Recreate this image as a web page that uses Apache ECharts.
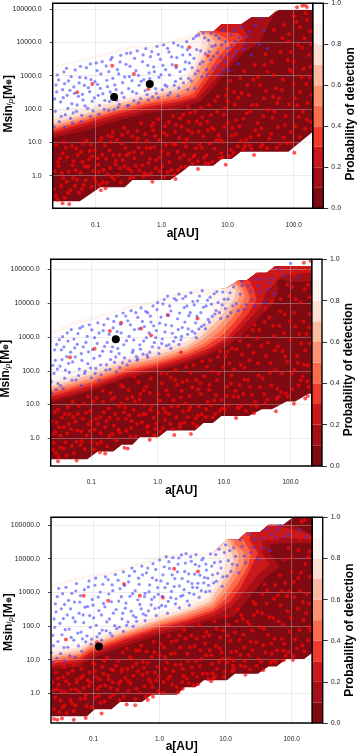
<!DOCTYPE html>
<html>
<head>
<meta charset="utf-8">
<style>html,body{margin:0;padding:0;background:#fff}#chart{width:357px;height:753px;filter:blur(0.3px)}</style>
<script src="https://cdn.jsdelivr.net/npm/echarts@6/dist/echarts.min.js"></script>
</head>
<body>
<div id="chart"></div>
<script>
// all positions below are [log10(a in AU), log10(Msini in Mearth)]
const xTicks = [-1, 0, 1, 2];
const yTicks = [0, 1, 2, 3, 4, 5];
const levelColors = ['#7f0a12', '#a50f15', '#cb181d', '#ef3b2c', '#fb6a4a', '#fc9272', '#fcbba1', '#fee0d2', '#fff5f0', '#ffffff'];
const levelSteps = [0.1, 0.1, 0.1, 0.1, 0.1, 0.1, 0.1, 0.1, 0.1, 0.1];

const panel1Bottom = [[-1.65,-.77],[-1.24,-.77],[-.93,-.35],[-.56,-.35],[-.44,-.13],[.13,-.13],[.30,.10],[.42,.30],[.78,.30],[.91,.50],[1.06,.50],[1.20,.72],[1.92,.72],[2.29,1.32]];
const panel1Rim = [[2.29,4.97],[1.77,4.97],[1.62,4.75],[1.36,4.75],[1.21,4.55],[.91,4.55],[.78,4.32],[.58,4.32],[-.18,3.87],[-.43,3.92],[-.88,3.67],[-1.65,3.27]];
const panel1Contours = [
  [[-1.65,1.12],[-1.04,1.42],[-.63,1.67],[-.23,1.87],[.23,1.99],[.58,2.22],[.78,2.62],[1.09,3.37],[1.26,3.72],[1.49,4.02],[1.59,4.42],[1.75,4.97]],
  [[-1.65,1.22],[-1.04,1.55],[-.63,1.77],[-.23,1.97],[.23,2.12],[.53,2.29],[.71,2.65],[.91,3.12],[1.06,3.47],[1.21,3.82],[1.31,4.17],[1.21,4.52]],
  [[-1.65,1.30],[-1.04,1.65],[-.63,1.87],[-.23,2.07],[.23,2.22],[.51,2.35],[.73,2.97],[.88,3.37],[.98,3.62],[1.16,4.02],[1.24,4.12],[1.16,4.27],[.88,4.32],[.81,4.37]],
  [[-1.65,1.37],[-1.04,1.72],[-.63,1.95],[-.23,2.15],[.23,2.30],[.47,2.44],[.61,2.82],[.74,3.22],[.88,3.62],[1.04,3.92],[.98,4.12],[.83,4.27],[.71,4.32]],
  [[-1.65,1.42],[-1.04,1.77],[-.63,2.01],[-.23,2.22],[.23,2.39],[.43,2.52],[.58,2.92],[.71,3.37],[.83,3.77],[.91,4.02],[.81,4.22],[.66,4.32]],
  [[-1.65,1.49],[-1.04,1.84],[-.63,2.09],[-.23,2.29],[.23,2.49],[.40,2.65],[.53,3.02],[.63,3.42],[.76,3.77],[.81,4.02],[.73,4.22],[.61,4.29]],
  [[-1.65,1.57],[-1.04,1.92],[-.63,2.17],[-.23,2.35],[.23,2.59],[.38,2.77],[.48,3.07],[.57,3.42],[.68,3.77],[.71,4.02],[.63,4.19],[.56,4.27]],
  [[-1.65,1.69],[-1.04,2.05],[-.63,2.27],[-.23,2.45],[.23,2.72],[.35,2.87],[.45,3.17],[.53,3.47],[.58,3.77],[.61,4.02],[.53,4.19],[.45,4.25]]
];
const panel1WhiteLow = [[-1.65,1.92],[-1.04,2.19],[-.63,2.37],[-.23,2.52],[.23,2.87],[.38,3.12],[.45,3.42],[.48,3.67]];
const panel1WhiteTop = [[.38,3.97],[.18,4.02],[-.18,3.77],[-.43,3.82],[-.88,3.57],[-1.65,3.22]];
const panel1Planets = [[-.72,2.36],[-.18,2.75]];
const panel1Blue = [[-1.62,2.3],[-1.6,2.72],[-1.58,3.02],[-1.55,1.62],[-1.53,2.21],[-1.5,2.58],[-1.48,3.11],[-1.46,1.83],[-1.43,2.41],[-1.41,2.84],[-1.38,1.72],[-1.36,2.16],[-1.33,2.66],[-1.31,3.17],[-1.29,1.93],[-1.26,2.38],[-1.24,2.95],[-1.21,1.81],[-1.19,2.27],[-1.17,2.71],[-1.14,3.24],[-1.12,2.02],[-1.09,2.52],[-1.07,2.88],[-1.04,1.94],[-1.02,2.33],[-.99,3.38],[-.97,2.74],[-.94,2.11],[-.92,3.05],[-.89,2.46],[-.87,1.99],[-.84,3.29],[-.82,2.67],[-.79,2.23],[-.77,3.48],[-.74,2.92],[-.72,1.98],[-.69,2.58],[-.67,3.18],[-.64,2.14],[-.62,3.61],[-.59,2.79],[-.57,2.35],[-.54,3.34],[-.52,2.09],[-.49,2.97],[-.47,3.68],[-.44,2.52],[-.42,2.25],[-.39,3.15],[-.37,3.74],[-.34,2.71],[-.32,2.31],[-.29,3.42],[-.27,2.88],[-.24,3.81],[-.22,2.43],[-.19,3.08],[-.17,3.57],[-.14,2.36],[-.12,3.26],[-.09,2.61],[-.07,3.88],[-.04,2.95],[-.02,3.49],[.01,2.58],[.03,3.92],[.06,3.18],[.08,2.68],[.11,3.71],[.13,2.49],[.16,3.33],[.18,3.98],[.21,2.83],[.23,3.54],[.26,2.63],[.28,3.12],[.31,3.86],[.33,2.78],[.36,3.41],[.38,4.02],[.41,2.92],[.43,3.63],[.46,3.24],[.48,4.11],[.51,3.05],[.53,3.78],[.56,4.22],[.58,3.35],[.61,2.97],[.63,4.28],[.66,3.66],[.68,3.18],[.71,4.06],[.74,3.48],[.76,3.88],[.79,3.21],[.82,4.21],[.85,3.68],[.88,3.05],[.91,3.92],[.93,4.36],[.96,3.42],[.99,3.82],[1.02,3.16],[1.05,4.23],[1.08,3.58],[1.12,4.03],[1.16,3.36],[1.2,4.45],[1.24,3.79],[1.3,4.18],[1.36,3.62],[1.42,4.51],[1.48,3.94],[1.55,4.36],[1.6,3.82],[1.5,4.72],[-1.47,1.46],[-1.35,1.58],[-1.22,1.62],[-1.08,1.78],[-.95,1.84],[-.8,1.96],[-.66,2.05],[-.5,2.11],[-.35,2.18],[-.2,2.27],[-.05,2.33],[.1,2.41],[.25,2.39],[.4,2.58],[.5,2.62],
  [-1.63,1.47],[-1.61,1.93],[-1.59,2.51],[-1.56,2.87],[-1.52,1.78],[-1.49,2.34],[-1.47,2.76],[-1.44,3.22],[-1.42,2.02],[-1.39,2.56],[-1.37,2.97],[-1.34,1.88],[-1.32,2.47],[-1.28,2.12],[-1.25,2.78],[-1.23,3.28],[-1.2,2.44],[-1.16,2.09],[-1.15,2.93],[-1.11,2.64],[-1.08,3.35],[-1.05,2.23],[-1.01,2.82],[-.98,3.15],[-.96,2.41],[-.93,2.62],[-.9,3.42],[-.86,2.26],[-.83,2.86],[-.8,3.12],[-.78,2.51],[-.75,3.55],[-.71,2.72],[-.68,2.26],[-.65,3.05],[-.63,3.41],[-.6,2.48],[-.56,2.96],[-.53,3.67],[-.5,2.61],[-.48,3.28],[-.45,2.85],[-.41,3.52],[-.38,2.47],[-.35,3.01],[-.31,2.83],[-.28,3.62],[-.25,2.55],[-.21,3.31],[-.18,2.91],[-.15,3.72],[-.11,3.12],[-.08,2.47],[-.05,3.64],[-.01,3.03],[.02,3.31],[.05,2.72],[.09,3.82],[.12,3.02],[.15,3.56],[.19,2.71],[.22,3.24],[.25,3.91],[.29,2.91],[.32,3.62],[.35,3.19],[.39,3.78],[.42,3.38],[.45,2.84],[.49,3.52],[.52,4.18],[.55,3.14],[.59,3.74],[.62,3.42],[.65,4.13],[.69,3.02],[.72,3.72],[.75,4.27],[.78,3.58],[.81,3.91],[.84,3.29],[.87,4.12],[.9,3.54],[.94,3.18],[.97,4.02],[1.01,3.66],[1.06,3.88],[1.1,4.36],[1.14,3.72],[1.18,4.14],[1.26,3.93],[1.33,4.32]];
const panel1Red = [[-1.6,-.6],[-1.52,-.31],[-1.47,-.66],[-1.41,.12],[-1.38,-.44],[-1.33,.43],[-1.28,-.12],[-1.22,.71],[-1.18,-.28],[-1.11,.27],[-1.07,.93],[-1.02,-.07],[-.97,.52],[-.91,1.13],[-.88,.18],[-.83,-.21],[-.79,.76],[-.74,1.31],[-.7,.34],[-.66,.02],[-.61,.97],[-.57,1.44],[-.53,.61],[-.48,-.08],[-.44,1.18],[-.39,.29],[-.35,.84],[-.31,1.57],[-.26,.07],[-.22,1.03],[-.18,.51],[-.13,1.36],[-.09,.22],[-.05,1.69],[0,.73],[.04,-.03],[.08,1.22],[.12,.41],[.17,1.78],[.21,.93],[.25,.17],[.3,1.47],[.34,.61],[.38,1.09],[.43,1.88],[.47,.36],[.52,.82],[.56,1.31],[.6,2.03],[.64,.53],[.69,1.62],[.73,.97],[.77,.42],[.81,2.24],[.86,1.21],[.9,.68],[.94,1.83],[.99,2.61],[1.03,.59],[1.07,1.43],[1.11,2.13],[1.15,.88],[1.19,2.93],[1.24,1.71],[1.28,1.08],[1.32,2.41],[1.36,.81],[1.41,3.32],[1.45,1.57],[1.49,2.71],[1.53,.93],[1.57,3.64],[1.62,1.98],[1.66,1.26],[1.7,3.02],[1.74,.84],[1.78,2.32],[1.83,4.12],[1.87,1.52],[1.91,3.47],[1.96,.98],[2,2.74],[2.04,4.61],[2.08,1.77],[2.13,3.83],[2.17,1.41],[2.21,2.18],[2.25,4.33],[-1.56,.28],[-1.5,.67],[-1.44,-.18],[-1.36,.89],[-1.3,.16],[-1.25,-.51],[-1.2,.42],[-1.14,1.06],[-1.05,.58],[-1,-.19],[-.95,.12],[-.86,.91],[-.78,.24],[-.72,-.1],[-.64,.62],[-.6,1.22],[-.5,.21],[-.42,.71],[-.37,1.34],[-.28,-.02],[-.2,.38],[-.11,.86],[-.03,.13],[.05,1.48],[.1,.66],[.19,.03],[.27,1.13],[.36,.27],[.41,1.62],[.5,.61],[.58,.95],[.62,1.75],[.71,.35],[.79,1.39],[.84,1.91],[.93,1.02],[1,2.23],[1.05,.78],[1.13,1.66],[1.21,2.47],[1.26,.88],[1.34,1.93],[1.39,2.88],[1.47,1.21],[1.55,2.32],[1.6,3.12],[1.68,1.74],[1.73,2.62],[1.8,3.71],[1.85,1.14],[1.93,2.14],[1.98,3.12],[2.03,1.48],[2.1,2.52],[2.15,3.21],[2.2,4.68],[2.26,1.62],[2.24,2.96],[1.7,4.38],[1.93,4.25],[2.1,4.45],[-1.5,-.83],[-1.4,-.85],[-.92,-.44],[-.85,-.38],[-.14,-.18],[.21,-.1],[.55,.2],[.97,.33],[1.4,.62],[2.01,.69],[2.05,5.05],[2.13,5.1],[2.2,5.06],[2.17,5.12],[-.75,3.3],[-.42,3.05],[-1.28,2.5],[.22,3.3],[-.2,2.6],[-1.05,2.75],[.42,3.85],[.7,3.6],
  [-1.62,.14],[-1.58,-.72],[-1.54,.52],[-1.49,-.08],[-1.45,.84],[-1.42,-.52],[-1.35,.31],[-1.31,-.31],[-1.27,.62],[-1.23,.09],[-1.19,.97],[-1.15,-.14],[-1.1,.49],[-1.06,-.33],[-1.01,.77],[-.96,.33],[-.93,1.03],[-.89,-.19],[-.84,.51],[-.81,1.19],[-.76,-.03],[-.73,.62],[-.68,1.08],[-.63,.22],[-.59,.47],[-.55,.83],[-.51,1.31],[-.46,.14],[-.41,.52],[-.38,1.02],[-.34,.16],[-.3,.68],[-.25,1.24],[-.21,.02],[-.17,.82],[-.12,1.58],[-.08,.47],[-.04,1.07],[.01,.29],[.06,.92],[.11,1.61],[.15,.16],[.2,1.32],[.24,.72],[.29,.26],[.33,1.83],[.37,.87],[.42,.48],[.46,1.29],[.51,1.92],[.55,.43],[.59,1.55],[.63,1.18],[.68,.61],[.72,2.12],[.76,1.44],[.8,.81],[.85,2.37],[.89,1.08],[.92,.55],[.96,2.02],[1,1.58],[1.04,2.85],[1.09,.69],[1.12,1.24],[1.16,2.34],[1.2,1.03],[1.25,3.13],[1.29,1.87],[1.33,.92],[1.37,2.12],[1.42,1.36],[1.46,2.96],[1.5,.87],[1.54,1.78],[1.58,2.54],[1.63,1.11],[1.67,3.41],[1.71,1.92],[1.75,2.18],[1.79,.96],[1.84,2.88],[1.88,1.78],[1.92,4.02],[1.95,1.31],[2,3.41],[2.05,2.11],[2.09,1.16],[2.12,2.96],[2.16,4.12],[2.2,1.68],[2.23,3.62],[2.27,2.43],[2.28,1.41],[1.86,4.52],[2.0,4.78],[1.95,3.72],[2.18,4.87],[2.27,3.94],[-1.6,.91],[-1.48,1],[-.75,1.17],[-.15,1.5],[.4,2.05],[.28,1.72],
  [-1.63,-.41],[-1.57,.41],[-1.51,.08],[-1.43,.55],[-1.34,-.07],[-1.29,.82],[-1.21,-.41],[-1.16,.28],[-1.09,.74],[-1.03,.14],[-.94,-.27],[-.9,.63],[-.82,.04],[-.77,1.01],[-.69,.45],[-.62,-.2],[-.56,.29],[-.49,.66],[-.43,-.04],[-.36,1.12],[-.29,.31],[-.23,.83],[-.16,.08],[-.1,1.18],[-.02,.55],[.03,1.29],[.09,.11],[.16,.96],[.22,1.53],[.28,.54],[.35,.99],[.4,1.36],[.48,.57],[.53,1.63],[.61,.84],[.66,.38],[.7,1.36],[.75,1.82],[.83,1.06],[.88,.52],[.95,1.47],[.98,2.41],[1.06,1.19],[1.1,2.52],[1.18,1.48],[1.23,.78],[1.3,2.72],[1.35,1.16],[1.44,2.12],[1.51,1.42],[1.56,3.32],[1.6,.82],[1.69,2.36],[1.76,1.45],[1.82,2.58],[1.89,.98],[1.94,3.18],[2.02,2.32],[2.07,3.92],[2.14,1.92],[2.19,2.74],[2.25,3.27]];

const panel2Bottom = [[-1.61,-.62],[-1.06,-.62],[-.90,-.39],[-.67,-.39],[-.54,-.19],[-.38,-.19],[-.27,.03],[.01,.03],[.14,.23],[.56,.23],[.69,.45],[.83,.45],[.96,.66],[1.37,.66],[1.57,.86],[1.72,.86],[1.94,1.09],[2.07,1.09],[2.27,1.32],[2.32,1.32]];
const panel2Rim = [[2.32,5.10],[1.77,5.10],[1.64,4.90],[1.49,4.90],[1.34,4.68],[1.22,4.68],[1.04,4.46],[.64,4.46],[.34,4.31],[-.17,4.01],[-.47,3.91],[-.87,3.66],[-1.27,3.44],[-1.61,3.17]];
const panel2Contours = [
  [[-1.61,1.06],[-1.02,1.39],[-.47,1.78],[-.02,1.98],[.44,2.23],[.74,2.45],[1.04,2.72],[1.29,3.07],[1.52,3.56],[1.72,3.96],[1.82,4.31],[1.79,4.70],[1.89,4.70],[1.99,4.63],[2.32,4.65]],
  [[-1.61,1.14],[-1.02,1.46],[-.47,1.85],[-.02,2.05],[.44,2.31],[.74,2.54],[1.09,2.94],[1.27,3.27],[1.44,3.66],[1.54,3.86],[1.64,4.36],[1.72,4.50],[1.89,4.85],[2.32,4.90]],
  [[-1.61,1.24],[-1.02,1.55],[-.47,1.93],[-.02,2.13],[.44,2.41],[.74,2.64],[1.04,2.97],[1.22,3.37],[1.37,3.71],[1.49,4.11],[1.44,4.46],[1.37,4.68]],
  [[-1.61,1.32],[-1.02,1.63],[-.47,2.01],[-.02,2.21],[.44,2.49],[.71,2.72],[.99,3.07],[1.17,3.47],[1.32,3.86],[1.39,4.16],[1.33,4.46],[1.23,4.68]],
  [[-1.61,1.39],[-1.02,1.70],[-.47,2.08],[-.02,2.28],[.44,2.56],[.69,2.80],[.94,3.17],[1.12,3.56],[1.25,3.96],[1.32,4.21],[1.27,4.46],[1.17,4.62]],
  [[-1.61,1.46],[-1.02,1.78],[-.47,2.16],[-.02,2.36],[.44,2.64],[.66,2.90],[.89,3.27],[1.07,3.66],[1.20,4.06],[1.25,4.31],[1.20,4.50],[1.12,4.55]],
  [[-1.61,1.53],[-1.02,1.88],[-.47,2.25],[-.02,2.45],[.44,2.74],[.64,3.00],[.84,3.37],[1.02,3.76],[1.14,4.11],[1.18,4.36],[1.12,4.50],[1.04,4.46]],
  [[-1.61,1.65],[-1.37,1.78],[-1.02,1.98],[-.47,2.35],[-.02,2.56],[.44,2.87],[.61,3.10],[.79,3.47],[.94,3.86],[1.04,4.21],[1.02,4.41]]
];
const panel2WhiteLow = [[-1.61,1.78],[-1.02,2.13],[-.47,2.44],[-.02,2.72],[.44,3.04],[.64,3.32],[.79,3.66],[.84,4.01]];
const panel2WhiteTop = [[.69,4.30],[.34,4.21],[-.17,3.91],[-.47,3.81],[-.87,3.56],[-1.27,3.34],[-1.61,3.02]];
const panel2Planets = [[-.63,2.93]];
const panel2Blue = [[-1.59,1.34],[-1.56,1.92],[-1.54,2.31],[-1.52,2.78],[-1.5,1.62],[-1.47,2.14],[-1.45,2.62],[-1.43,3.01],[-1.4,1.78],[-1.37,2.42],[-1.35,2.88],[-1.33,1.95],[-1.3,3.22],[-1.28,2.26],[-1.25,2.68],[-1.23,1.73],[-1.2,3.1],[-1.18,2.05],[-1.15,2.51],[-1.13,3.31],[-1.1,1.92],[-1.08,2.84],[-1.05,2.21],[-1.03,3.36],[-1,1.79],[-.98,2.63],[-.95,2.98],[-.93,2.07],[-.9,3.42],[-.87,2.44],[-.85,1.88],[-.82,3.19],[-.8,2.72],[-.77,2.18],[-.75,3.54],[-.72,2.04],[-.7,2.57],[-.67,3.27],[-.65,2.25],[-.62,3.62],[-.6,2.66],[-.57,2.09],[-.55,3.12],[-.52,3.71],[-.5,2.38],[-.47,2.89],[-.45,3.48],[-.42,2.29],[-.4,3.78],[-.37,2.61],[-.35,3.22],[-.32,2.42],[-.3,3.58],[-.27,2.77],[-.25,3.86],[-.22,2.49],[-.2,3.31],[-.17,2.98],[-.15,3.72],[-.12,2.55],[-.1,3.44],[-.07,3.92],[-.05,2.83],[-.02,3.19],[0,4.02],[.02,2.68],[.05,3.59],[.07,2.94],[.1,4.11],[.12,3.36],[.15,4.21],[.17,2.77],[.2,3.77],[.22,3.11],[.25,4.14],[.27,2.99],[.3,3.54],[.32,4.27],[.35,2.92],[.37,3.28],[.4,3.87],[.42,4.2],[.45,3.08],[.47,3.63],[.5,4.31],[.52,3.17],[.55,3.95],[.57,3.42],[.6,4.07],[.62,3.24],[.65,3.72],[.67,4.37],[.7,3.36],[.73,3.92],[.76,3.52],[.79,4.18],[.82,3.61],[.85,4.28],[.88,3.78],[.91,4.02],[.95,3.55],[.98,4.33],[1.02,3.84],[1.06,4.12],[1.1,3.72],[1.14,4.48],[1.18,3.99],[1.24,4.27],[1.3,3.82],[1.36,4.52],[1.42,4.11],[1.48,4.72],[1.55,4.35],[1.62,4.02],[1.68,4.61],[1.75,4.28],[1.82,5.02],[1.9,4.82],[2,5.18],[2.12,4.78],[-.3,2.35],[-.15,2.4],[.02,2.51],[.2,2.66],[.32,2.78],[-.62,1.97],[-.88,1.72],[-1.15,1.56],[-1.42,1.47],[.58,2.98],[1.26,4.64],
  [-1.6,1.68],[-1.58,2.16],[-1.55,2.62],[-1.53,1.44],[-1.51,2.05],[-1.48,2.92],[-1.46,1.56],[-1.44,2.33],[-1.41,2.71],[-1.39,2.02],[-1.36,3.12],[-1.34,2.22],[-1.31,2.55],[-1.29,1.72],[-1.26,2.94],[-1.24,2.41],[-1.21,2.78],[-1.19,1.86],[-1.17,3.26],[-1.14,2.31],[-1.12,2.71],[-1.09,1.99],[-1.06,3.02],[-1.04,2.56],[-1.01,2.08],[-.99,3.21],[-.96,2.37],[-.94,1.92],[-.91,2.81],[-.88,3.12],[-.86,2.17],[-.83,2.58],[-.81,3.36],[-.78,2.02],[-.76,2.84],[-.73,3.08],[-.71,2.33],[-.68,2.71],[-.66,3.46],[-.63,2.41],[-.61,3.16],[-.58,2.51],[-.56,3.38],[-.53,2.24],[-.51,2.77],[-.48,3.62],[-.46,2.17],[-.43,3.02],[-.41,3.36],[-.38,2.54],[-.36,2.91],[-.33,3.72],[-.31,2.31],[-.28,3.24],[-.26,2.64],[-.23,3.46],[-.21,2.88],[-.18,3.76],[-.16,2.47],[-.13,3.12],[-.11,3.62],[-.08,2.71],[-.06,3.33],[-.03,2.98],[-.01,3.81],[.03,3.41],[.06,2.81],[.08,3.98],[.11,3.15],[.13,2.74],[.16,3.64],[.18,3.92],[.21,3.33],[.24,2.87],[.28,4.09],[.31,3.22],[.33,3.71],[.36,3.02],[.38,4.14],[.41,3.44],[.44,3.92],[.46,3.24],[.49,3.72],[.53,4.05],[.56,3.11],[.59,3.62],[.63,4.21],[.66,3.31],[.69,3.88],[.72,3.24],[.75,4.09],[.78,3.44],[.81,3.97],[.86,3.68],[.89,4.34],[.93,3.72],[.97,3.95],[1,4.12],[1.05,3.61],[1.09,4.31],[1.13,3.92],[1.21,3.78],[1.27,4.52],[1.33,3.96],[1.4,4.36],[1.46,3.92],[1.5,4.51],[1.58,4.71],[1.66,4.42],[1.72,4.73]];
const panel2Red = [[-1.58,-.34],[-1.54,.18],[-1.49,-.55],[-1.44,.61],[-1.39,-.12],[-1.35,.93],[-1.3,.27],[-1.26,-.44],[-1.2,.72],[-1.16,-.2],[-1.11,1.02],[-1.07,.08],[-1,.5],[-.96,-.33],[-.92,1.19],[-.86,.16],[-.81,.77],[-.76,-.24],[-.71,1.34],[-.66,.38],[-.62,-.06],[-.58,.96],[-.52,1.52],[-.47,.22],[-.43,.68],[-.38,1.23],[-.33,.05],[-.29,1.66],[-.24,.47],[-.2,.99],[-.15,.18],[-.1,1.77],[-.06,.61],[0,1.31],[.04,.21],[.09,.88],[.14,1.92],[.19,.42],[.24,1.13],[.29,1.58],[.33,.33],[.38,.79],[.43,2.11],[.48,1.26],[.53,.44],[.58,1.72],[.62,.95],[.67,2.28],[.72,.62],[.77,1.43],[.82,1.98],[.87,.73],[.91,2.41],[.96,1.14],[1.01,.86],[1.05,2.56],[1.1,1.62],[1.15,2.04],[1.2,.92],[1.24,2.88],[1.29,1.31],[1.33,.81],[1.38,2.31],[1.43,3.21],[1.47,1.08],[1.52,1.86],[1.56,2.74],[1.61,3.44],[1.65,1.16],[1.7,2.23],[1.75,3.03],[1.8,1.47],[1.84,3.76],[1.88,2.58],[1.93,1.33],[1.98,4.22],[2.02,1.92],[2.07,3.31],[2.12,1.56],[2.16,2.81],[2.21,4.41],[2.26,2.16],[2.29,3.67],[-1.55,.77],[-1.48,.33],[-1.42,-.3],[-1.34,.42],[-1.28,1.08],[-1.22,-.1],[-1.13,.59],[-1.05,1.23],[-.99,-.12],[-.9,.42],[-.83,1.41],[-.74,.88],[-.68,.12],[-.6,.57],[-.55,1.58],[-.49,.91],[-.4,.31],[-.35,1.82],[-.27,1.15],[-.18,.71],[-.12,1.35],[-.04,.28],[.06,1.62],[.11,.55],[.21,.94],[.27,2.02],[.36,1.41],[.45,.62],[.5,1.94],[.6,.67],[.65,1.31],[.74,2.12],[.8,.98],[.89,1.72],[.94,2.58],[1.03,1.27],[1.08,2.23],[1.17,1.41],[1.22,.89],[1.27,2.48],[1.36,1.73],[1.41,.98],[1.5,2.97],[1.54,1.52],[1.63,2.44],[1.68,3.58],[1.77,2.01],[1.82,1.23],[1.9,3.11],[1.95,2.27],[2.05,3.72],[2.1,2.44],[2.18,1.83],[2.24,3.09],[2.28,4.18],[1.45,4.5],[1.72,4.05],[2.05,4.85],[2.25,4.95],[2.2,5.2],[2.3,5.25],[-1.5,-.68],[-1.22,-.66],[-.87,-.42],[-.79,-.45],[-.5,-.28],[-.45,-.3],[-.12,-.04],[.25,.1],[.5,.13],[1.18,.6],[1.45,.74],[1.78,.8],[2.05,1.02],[2.22,1.18],[2.26,1.25],[-1.32,2.4],[-.95,2.65],[-.55,3.42],[-.1,3.05],[.15,3.65],[.35,2.55],[.6,3.55],[-.72,3.18],[-.25,3.25],
  [-1.6,.51],[-1.57,-.13],[-1.53,-.44],[-1.5,.85],[-1.46,.08],[-1.41,.33],[-1.37,-.51],[-1.33,.71],[-1.29,-.22],[-1.24,.49],[-1.19,.96],[-1.15,.2],[-1.1,-.32],[-1.04,.41],[-1.01,.81],[-.95,.26],[-.91,-.16],[-.87,.63],[-.82,1.08],[-.77,.51],[-.73,.07],[-.69,1.16],[-.64,.72],[-.59,.26],[-.54,1.03],[-.48,.58],[-.44,1.42],[-.41,.05],[-.36,.84],[-.31,.42],[-.26,1.31],[-.22,.71],[-.17,1.53],[-.14,.37],[-.09,.97],[-.05,.09],[.01,.76],[.05,1.92],[.08,.31],[.13,1.42],[.17,.72],[.23,.27],[.26,1.73],[.31,.96],[.35,1.21],[.4,.47],[.44,1.71],[.49,.92],[.54,2.17],[.57,.58],[.61,1.45],[.66,.71],[.7,1.84],[.75,1.08],[.79,2.31],[.83,.62],[.88,1.28],[.92,1.92],[.97,.88],[1.02,2.44],[1.06,.98],[1.11,1.87],[1.14,1.24],[1.19,2.64],[1.23,1.58],[1.26,.97],[1.31,2.09],[1.35,3.02],[1.39,1.52],[1.44,2.53],[1.49,.94],[1.53,3.21],[1.58,1.77],[1.62,1.04],[1.66,2.84],[1.71,1.56],[1.76,2.61],[1.79,1.17],[1.83,3.33],[1.87,1.92],[1.91,3.67],[1.96,1.24],[2,2.91],[2.03,1.45],[2.08,4.12],[2.11,2.23],[2.15,1.72],[2.19,3.46],[2.22,2.61],[2.27,1.52],[2.29,2.81],[1.85,4.12],[2.03,4.48],[1.95,4.55],[2.15,4.02],[2.26,4.55],[1.62,3.85],
  [-1.59,.12],[-1.52,.46],[-1.47,-.27],[-1.4,.72],[-1.36,.14],[-1.27,.63],[-1.21,.23],[-1.14,-.08],[-1.08,.76],[-1.02,.22],[-.97,1.09],[-.93,.58],[-.85,-.11],[-.79,.33],[-.72,.61],[-.65,1.21],[-.57,.17],[-.51,.77],[-.46,1.18],[-.39,.51],[-.34,1.09],[-.28,.68],[-.21,1.42],[-.16,.33],[-.11,.84],[-.02,.44],[.03,1.12],[.12,.77],[.16,1.28],[.2,1.81],[.28,.62],[.34,.43],[.37,1.67],[.42,1.02],[.47,.83],[.52,1.51],[.59,.36],[.64,1.63],[.73,.87],[.78,1.58],[.85,1.12],[.93,.81],[.99,2.11],[1.04,1.53],[1.12,2.67],[1.21,1.22],[1.25,2.17],[1.3,1.74],[1.37,2.74],[1.42,1.29],[1.46,3.36],[1.51,2.22],[1.6,1.31],[1.69,1.93],[1.74,3.33],[1.81,2.72],[1.86,1.37],[1.92,2.42],[1.99,3.47],[2.06,2.02],[2.13,3.08],[2.2,2.18],[2.25,1.68],[2.28,3.28]];

const panel3Bottom = [[-1.65,-.68],[-1.10,-.68],[-.98,-.47],[-.73,-.47],[-.60,-.26],[-.27,-.26],[-.12,-.04],[.26,-.04],[.38,.18],[.54,.18],[.67,.39],[1.02,.39],[1.14,.58],[1.49,.58],[1.65,.80],[1.77,.80],[1.92,1.02],[2.19,1.02],[2.31,1.20]];
const panel3Rim = [[2.31,5.23],[2.02,5.23],[1.87,5.01],[1.65,5.01],[1.52,4.79],[1.32,4.79],[1.19,4.56],[1.02,4.56],[.81,4.17],[.41,4.17],[.01,4.09],[-.40,3.82],[-.75,3.62],[-1.08,3.52],[-1.33,3.40],[-1.65,3.23]];
const panel3Contours = [
  [[-1.65,.70],[-1.21,.80],[-1.06,1.00],[-.60,1.35],[.01,1.74],[.41,1.94],[.81,2.19],[1.12,2.28],[1.37,2.87],[1.62,3.47],[1.82,3.76],[1.67,4.16],[1.67,4.41],[1.87,4.46],[2.31,4.46],[2.31,4.71],[2.13,4.91],[1.92,5.04]],
  [[-1.65,.80],[-1.21,.90],[-1.06,1.10],[-.60,1.45],[.01,1.84],[.41,2.04],[.81,2.29],[1.09,2.58],[1.29,3.03],[1.49,3.52],[1.67,3.82],[1.55,4.17],[1.55,4.51],[1.77,4.63],[2.31,4.58],[2.31,4.68],[2.13,4.81],[1.87,4.94],[1.65,5.01]],
  [[-1.65,.88],[-1.21,1.00],[-1.06,1.20],[-.60,1.54],[.01,1.94],[.41,2.14],[.81,2.41],[1.07,2.73],[1.24,3.18],[1.37,3.67],[1.49,4.17],[1.36,4.56],[1.38,4.79]],
  [[-1.65,.95],[-1.21,1.08],[-1.06,1.28],[-.60,1.61],[.01,2.01],[.41,2.21],[.81,2.49],[1.02,2.83],[1.19,3.28],[1.34,3.77],[1.39,4.17],[1.27,4.56],[1.20,4.58]],
  [[-1.65,1.00],[-1.21,1.15],[-1.06,1.34],[-.60,1.67],[.01,2.07],[.41,2.29],[.81,2.58],[.97,2.93],[1.14,3.38],[1.27,3.82],[1.29,4.17],[1.14,4.42],[1.12,4.56]],
  [[-1.65,1.05],[-1.21,1.20],[-1.06,1.40],[-.60,1.73],[.01,2.14],[.41,2.37],[.79,2.66],[.94,3.03],[1.09,3.48],[1.19,3.87],[1.19,4.17],[1.09,4.42],[1.07,4.56]],
  [[-1.65,1.12],[-1.21,1.28],[-1.06,1.46],[-.60,1.79],[.01,2.21],[.41,2.44],[.76,2.73],[.89,3.13],[1.04,3.57],[1.12,3.92],[1.09,4.17],[1.02,4.42],[1.02,4.54]],
  [[-1.65,1.22],[-1.21,1.38],[-1.06,1.55],[-.60,1.89],[.01,2.31],[.41,2.53],[.74,2.85],[.86,3.23],[.97,3.67],[1.02,3.97],[.94,4.27],[.86,4.25]]
];
const panel3WhiteLow = [[-1.65,1.40],[-1.21,1.52],[-1.06,1.69],[-.60,2.01],[.01,2.44],[.41,2.71],[.66,3.04],[.81,3.48],[.86,3.88]];
const panel3WhiteTop = [[.71,4.07],[.41,4.07],[.01,3.99],[-.40,3.72],[-.75,3.52],[-1.08,3.42],[-1.33,3.30],[-1.65,3.13]];
const panel3Planets = [[-.92,1.39]];
const panel3Blue = [[-1.63,.93],[-1.61,1.42],[-1.59,1.96],[-1.57,2.42],[-1.55,2.87],[-1.53,3.12],[-1.5,1.18],[-1.48,1.74],[-1.46,2.22],[-1.44,2.64],[-1.42,3.15],[-1.39,1.37],[-1.37,1.91],[-1.35,2.51],[-1.33,2.97],[-1.3,1.58],[-1.28,2.13],[-1.26,3.26],[-1.23,1.41],[-1.21,2.71],[-1.19,1.82],[-1.16,2.33],[-1.14,3.08],[-1.12,1.53],[-1.09,2.58],[-1.07,3.34],[-1.05,1.96],[-1.02,2.79],[-1,2.24],[-.97,3.42],[-.95,1.68],[-.92,2.46],[-.9,3.01],[-.87,1.88],[-.85,2.67],[-.82,3.46],[-.8,2.12],[-.77,2.95],[-.75,1.79],[-.72,3.22],[-.7,2.38],[-.67,3.53],[-.65,1.92],[-.62,2.74],[-.6,3.11],[-.57,2.21],[-.55,3.61],[-.52,2.53],[-.5,2.02],[-.47,3.31],[-.45,2.88],[-.42,3.72],[-.4,2.31],[-.37,3.05],[-.35,2.14],[-.32,3.42],[-.3,2.64],[-.27,3.78],[-.25,2.36],[-.22,2.97],[-.2,3.58],[-.17,2.45],[-.15,3.22],[-.12,2.79],[-.1,3.85],[-.07,2.52],[-.05,3.36],[-.02,2.94],[0,3.96],[.03,2.61],[.05,3.52],[.08,3.14],[.1,4.06],[.13,2.73],[.15,3.71],[.18,3.03],[.2,4.03],[.23,3.41],[.25,2.81],[.28,3.84],[.3,3.19],[.33,4.11],[.35,2.91],[.38,3.62],[.4,4.15],[.43,3.32],[.45,2.98],[.48,3.92],[.5,3.15],[.53,3.54],[.55,4.12],[.58,3.27],[.6,3.78],[.63,3.05],[.66,4.02],[.68,3.44],[.71,3.66],[.74,3.21],[.77,4.14],[.8,3.52],[.83,3.88],[.86,3.33],[.9,4.28],[.93,3.72],[.96,3.46],[1,4.41],[1.04,3.94],[1.08,3.62],[1.12,4.32],[1.17,3.81],[1.22,4.55],[1.28,4.08],[1.35,4.72],[1.42,4.33],[1.48,3.98],[1.55,4.61],[1.62,4.88],[1.68,4.24],[1.75,4.62],[1.83,4.98],[1.95,4.71],[2.12,4.85],[2.22,4.65],[-1.44,.96],[-1.28,1.08],[-1.18,1.25],[-1.04,1.46],[-.88,1.58],[-.72,1.71],[-.55,1.84],[-.4,1.99],[-.22,2.16],[-.05,2.31],[.12,2.38],[.3,2.54],[.45,2.62],[.6,2.85],[.7,3.02],
  [-1.64,1.21],[-1.62,1.72],[-1.6,2.21],[-1.58,2.66],[-1.56,1.05],[-1.54,1.54],[-1.51,2.08],[-1.49,2.51],[-1.47,2.96],[-1.45,1.36],[-1.43,1.89],[-1.4,2.33],[-1.38,2.76],[-1.36,1.12],[-1.34,1.66],[-1.31,2.24],[-1.29,2.71],[-1.27,3.04],[-1.24,1.79],[-1.22,2.38],[-1.2,2.9],[-1.17,1.62],[-1.15,2.1],[-1.13,2.56],[-1.1,1.71],[-1.08,3.16],[-1.06,2.31],[-1.03,1.61],[-1.01,2.62],[-.98,3.21],[-.96,2.02],[-.93,2.86],[-.91,1.78],[-.88,2.33],[-.86,3.24],[-.83,2.57],[-.81,1.86],[-.78,3.38],[-.76,2.21],[-.73,2.72],[-.71,3.05],[-.68,2.01],[-.66,2.49],[-.63,3.36],[-.61,1.97],[-.58,2.87],[-.56,2.38],[-.53,3.2],[-.51,2.68],[-.48,2.12],[-.46,3.49],[-.43,2.44],[-.41,2.96],[-.38,3.62],[-.36,2.26],[-.33,2.78],[-.31,3.24],[-.28,2.51],[-.26,3.52],[-.23,2.87],[-.21,2.32],[-.18,3.72],[-.16,3.02],[-.13,2.63],[-.11,3.43],[-.08,2.86],[-.06,3.68],[-.03,3.14],[-.01,2.55],[.02,3.34],[.04,2.88],[.07,3.76],[.09,2.59],[.12,3.26],[.14,3.91],[.17,2.84],[.19,3.52],[.22,3.17],[.24,2.66],[.27,3.61],[.29,4.02],[.32,2.88],[.34,3.41],[.37,3.08],[.39,3.87],[.42,2.74],[.44,3.55],[.47,4.06],[.49,3.26],[.52,2.94],[.54,3.83],[.57,3.14],[.61,3.51],[.64,3.96],[.67,3.28],[.7,3.84],[.73,3.42],[.76,3.04],[.79,3.78],[.82,3.28],[.85,4.12],[.88,3.56],[.92,3.91],[.95,3.18],[.98,4.18],[1.02,3.48],[1.06,4.24],[1.1,3.84],[1.15,4.07],[1.2,3.58],[1.25,4.36],[1.3,3.88],[1.38,4.18],[1.45,4.58],[1.58,4.32],[1.7,4.72],[1.78,4.85],[1.88,4.64]];
const panel3Red = [[-1.6,-.47],[-1.55,.12],[-1.5,-.21],[-1.46,.48],[-1.41,-.58],[-1.37,.27],[-1.32,.68],[-1.28,-.36],[-1.22,.05],[-1.18,.74],[-1.13,-.15],[-1.09,.39],[-1.03,-.41],[-.99,.86],[-.94,.14],[-.89,-.28],[-.85,.58],[-.8,1.06],[-.75,-.11],[-.71,.33],[-.66,.82],[-.61,-.2],[-.56,1.21],[-.52,.47],[-.47,.08],[-.42,1.01],[-.37,-.17],[-.33,.66],[-.28,1.42],[-.23,.21],[-.18,.91],[-.14,-.02],[-.09,1.53],[-.05,.38],[0,1.14],[.05,.02],[.09,.72],[.14,1.71],[.19,.26],[.23,1.19],[.28,.03],[.32,.86],[.37,1.88],[.41,.44],[.46,1.37],[.51,.23],[.55,.97],[.6,2.02],[.65,.58],[.69,1.48],[.74,.42],[.78,1.13],[.83,2.14],[.87,.72],[.92,1.66],[.97,.49],[1.01,2.27],[1.05,1.04],[1.1,.66],[1.14,1.81],[1.19,2.49],[1.23,.82],[1.28,1.36],[1.33,2.13],[1.37,.71],[1.42,2.71],[1.46,1.52],[1.5,1.02],[1.55,2.38],[1.59,3.24],[1.64,1.74],[1.68,.91],[1.73,2.81],[1.78,1.28],[1.82,3.51],[1.87,2.04],[1.91,1.12],[1.96,3.02],[2,4.03],[2.05,1.61],[2.09,2.52],[2.14,3.58],[2.19,1.24],[2.23,2.96],[2.27,4.21],[-1.57,.62],[-1.52,-.55],[-1.43,.03],[-1.35,-.2],[-1.25,.41],[-1.15,.17],[-1.06,.62],[-.97,-.12],[-.91,.41],[-.82,.23],[-.73,.71],[-.64,.11],[-.58,.64],[-.5,1.33],[-.44,.29],[-.35,.89],[-.26,.55],[-.2,1.24],[-.11,.19],[-.03,.78],[.07,1.36],[.16,.51],[.25,1.56],[.34,.33],[.43,.95],[.48,1.72],[.57,.49],[.62,1.27],[.71,1.82],[.8,.6],[.85,1.41],[.95,1.02],[1.03,1.72],[1.12,.98],[1.21,1.59],[1.26,2.21],[1.35,1.14],[1.4,1.87],[1.48,2.42],[1.57,1.43],[1.62,2.67],[1.7,1.18],[1.75,3.21],[1.8,2.14],[1.89,1.48],[1.94,2.44],[2.03,3.31],[2.12,1.88],[2.17,2.71],[2.25,1.58],[2.28,3.47],[2.1,4.25],[1.9,3.98],[2.2,5.15],[2.15,5.1],[1.7,4.55],[-1.6,-.76],[-1.55,-.78],[-1.48,-.75],[-1.3,-.78],[-1.12,-.73],[-.88,-.6],[-.5,-.33],[-.37,-.35],[-.18,-.2],[-.1,-.1],[.35,.14],[.78,.36],[1.3,.55],[1.57,.69],[1.88,.98],[2.02,.99],[-.78,2.75],[-.54,3.25],[-1.15,2.9],[-.3,2.9],[.05,2.85],[.22,3.7],[.58,3.62],[-1.42,1.6],[-.95,1.52],
  [-1.63,.33],[-1.58,-.12],[-1.54,.44],[-1.49,.07],[-1.44,-.36],[-1.39,.59],[-1.34,.11],[-1.3,-.52],[-1.26,.33],[-1.2,-.17],[-1.16,.52],[-1.11,-.38],[-1.07,.22],[-1.01,.91],[-.96,.48],[-.92,-.07],[-.87,.79],[-.83,-.24],[-.78,.53],[-.74,.17],[-.69,-.04],[-.63,.96],[-.59,.36],[-.54,-.1],[-.49,.72],[-.45,1.08],[-.4,.52],[-.35,.14],[-.31,1.27],[-.24,.76],[-.21,-.09],[-.16,.42],[-.12,1.08],[-.07,.62],[-.02,.07],[.02,1.46],[.06,.34],[.11,.92],[.17,1.18],[.21,.66],[.26,.19],[.31,1.36],[.35,.72],[.39,1.62],[.44,.3],[.49,.77],[.53,1.41],[.58,.27],[.63,1.02],[.67,1.68],[.72,.58],[.76,1.28],[.81,.44],[.86,1.92],[.9,.93],[.94,1.21],[.99,.66],[1.04,2.04],[1.08,1.22],[1.13,.72],[1.17,2.14],[1.22,1.14],[1.27,1.74],[1.3,.79],[1.38,1.53],[1.43,2.32],[1.47,.82],[1.52,1.97],[1.56,2.94],[1.6,1.21],[1.66,2.27],[1.71,.98],[1.74,1.62],[1.79,2.91],[1.85,1.62],[1.9,3.28],[1.95,1.22],[1.99,2.24],[2.04,2.86],[2.08,1.33],[2.13,3.04],[2.18,2.18],[2.21,3.84],[2.26,2.66],[2.29,1.86],[1.85,3.04],[2.0,3.62],[1.78,4.6],[1.95,4.3],[2.12,4.6],[2.28,4.62],[2.25,4.05],[-1.45,.78],[-1.3,.85],
  [-1.61,.09],[-1.53,.26],[-1.47,-.41],[-1.42,.36],[-1.33,-.29],[-1.27,.12],[-1.19,.46],[-1.12,-.05],[-1.05,.32],[-.98,.66],[-.9,.21],[-.84,.97],[-.77,.41],[-.7,.68],[-.62,.29],[-.57,.72],[-.48,.37],[-.41,.79],[-.36,1.27],[-.3,.02],[-.25,.94],[-.19,.61],[-.13,.32],[-.08,1.22],[-.01,.49],[.08,1.08],[.13,.43],[.18,1.53],[.24,.85],[.3,1.72],[.36,.52],[.42,1.18],[.5,.58],[.56,1.62],[.61,.81],[.7,1.13],[.75,1.72],[.79,.87],[.84,.51],[.91,1.33],[.96,1.87],[1.02,.92],[1.07,1.56],[1.11,.82],[1.16,1.24],[1.24,2.33],[1.29,.96],[1.36,2.04],[1.41,1.27],[1.45,2.64],[1.54,.94],[1.58,1.92],[1.63,3.07],[1.69,1.47],[1.72,2.24],[1.76,.93],[1.83,2.61],[1.88,1.27],[1.93,2.88],[1.97,1.83],[2.03,1.12],[2.1,3.42],[2.16,1.42],[2.22,2.38],[2.27,1.96]];

const panels = [
  { left: 52.7, top: 3.3, width: 260, height: 205, barWidth: 10.6, xRange: [-1.65, 2.288], yRange: [-.98, 5.17], yGap: 38, yShift: -2, xGap: 19, cbGap: 21, cbShift: 8,
    bottom: panel1Bottom, rim: panel1Rim, contours: panel1Contours, whiteLow: panel1WhiteLow, whiteTop: panel1WhiteTop, blue: panel1Blue, red: panel1Red, planets: panel1Planets },
  { left: 50.7, top: 259.3, width: 261, height: 206.7, barWidth: 10.3, xRange: [-1.61, 2.318], yRange: [-.82, 5.30], yGap: 39, yShift: 6, xGap: 19, cbGap: 21, cbShift: 7,
    bottom: panel2Bottom, rim: panel2Rim, contours: panel2Contours, whiteLow: panel2WhiteLow, whiteTop: panel2WhiteTop, blue: panel2Blue, red: panel2Red, planets: panel2Planets },
  { left: 51, top: 517.3, width: 261.3, height: 205.7, barWidth: 10.4, xRange: [-1.646, 2.313], yRange: [-.88, 5.228], yGap: 36, yShift: 2, xGap: 18, cbGap: 21, cbShift: 10,
    bottom: panel3Bottom, rim: panel3Rim, contours: panel3Contours, whiteLow: panel3WhiteLow, whiteTop: panel3WhiteTop, blue: panel3Blue, red: panel3Red, planets: panel3Planets }
];

// a contour is closed along the rim of the sampled region; lower levels stop short
// under the white area so their edges do not fringe along the rim
function closeContour(contour, p, isCream) {
  const endX = contour[contour.length - 1][0];
  if (isCream) return contour.concat(p.rim.filter(r => r[0] <= endX));
  const whiteX = p.whiteTop[0][0];
  return contour.concat(p.rim.filter(r => r[0] <= endX && r[0] > whiteX), p.whiteTop);
}
const shiftPadding = s => (s > 0 ? [0, 2 * s, 0, 0] : [0, 0, 0, -2 * s]);

const grid = [], xAxis = [], yAxis = [], series = [], graphic = [];
const titleFont = { fontFamily: 'Liberation Sans', fontWeight: 'bold', fontSize: 12, color: '#000' };
const tickFont = { fontFamily: 'Liberation Sans', fontSize: 7, color: '#222' };
const gridLine = { show: true, lineStyle: { color: 'rgba(205,205,205,0.38)', width: 1 } };
const powerLabel = v => Math.pow(10, v).toFixed(1);

panels.forEach((p, i) => {
  const main = i * 2, bar = i * 2 + 1;
  grid.push({ left: p.left, top: p.top, width: p.width, height: p.height, outerBoundsMode: 'none' });
  grid.push({ left: p.left + p.width, top: p.top, width: p.barWidth, height: p.height, outerBoundsMode: 'none' });

  xAxis.push({
    type: 'value', gridIndex: main, z: 3, min: p.xRange[0], max: p.xRange[1],
    name: 'a[AU]', nameLocation: 'middle', nameGap: p.xGap, nameMoveOverlap: false, nameTextStyle: titleFont,
    axisLine: { show: false, onZero: false }, axisTick: { show: false, customValues: xTicks },
    axisLabel: { ...tickFont, fontSize: 6.5, margin: 13, customValues: xTicks, formatter: powerLabel },
    splitLine: gridLine
  });
  yAxis.push({
    type: 'value', gridIndex: main, z: 3, min: p.yRange[0], max: p.yRange[1],
    name: '{b|Msin}{i|i}{s|p}{b|[M}{e|⊕}{b|]}', nameLocation: 'middle', nameGap: p.yGap, nameRotate: 90, nameMoveOverlap: false,
    nameTextStyle: { padding: shiftPadding(p.yShift), rich: {
      b: titleFont,
      i: { ...titleFont, fontSize: 8, fontStyle: 'italic', fontWeight: 'normal' },
      s: { ...titleFont, fontSize: 8, fontStyle: 'italic', fontWeight: 'normal', verticalAlign: 'bottom' },
      e: { ...titleFont, fontSize: 7 }
    } },
    axisLine: { show: false, onZero: false }, axisTick: { show: true, length: 3, customValues: yTicks, lineStyle: { color: '#000', width: 0.7 } },
    axisLabel: { ...tickFont, margin: 11, customValues: yTicks, formatter: powerLabel },
    splitLine: gridLine
  });

  xAxis.push({ type: 'category', gridIndex: bar, data: ['p'], show: false });
  yAxis.push({
    type: 'value', gridIndex: bar, position: 'right', min: 0, max: 1, interval: 0.2,
    name: 'Probability of detection', nameLocation: 'middle', nameGap: p.cbGap, nameRotate: 90, nameMoveOverlap: false,
    nameTextStyle: { ...titleFont, padding: shiftPadding(p.cbShift) },
    axisLine: { show: false }, axisTick: { show: true, length: 5, lineStyle: { color: '#000', width: 0.8 } },
    axisLabel: { ...tickFont, margin: 8, formatter: v => v.toFixed(1) },
    splitLine: { show: false }
  });

  const lastLower = p.contours.length - 1;
  const polys = [p.bottom.concat(p.rim.filter(r => r[0] > p.whiteTop[0][0]), p.whiteTop)]
    .concat(p.contours.map((c, k) => closeContour(c, p, k === lastLower)))
    .concat([p.whiteLow.concat(p.whiteTop)]);
  series.push({
    type: 'custom', xAxisIndex: main, yAxisIndex: main, z: 1, silent: true, clip: true, animation: false,
    data: polys.map(poly => poly[0]),
    renderItem: (params, api) => ({
      type: 'polygon',
      shape: { points: polys[params.dataIndex].map(pt => api.coord(pt)) },
      style: { fill: levelColors[params.dataIndex] }
    })
  });
  series.push({ type: 'scatter', xAxisIndex: main, yAxisIndex: main, z: 4, silent: true, animation: false, symbolSize: 4,
    itemStyle: { color: '#ff0808', opacity: 0.68 }, data: p.red });
  series.push({ type: 'scatter', xAxisIndex: main, yAxisIndex: main, z: 5, silent: true, animation: false, symbolSize: 3.2,
    itemStyle: { color: '#3a3aff', opacity: 0.58 }, data: p.blue });
  series.push({ type: 'scatter', xAxisIndex: main, yAxisIndex: main, z: 6, silent: true, animation: false, symbolSize: 8,
    itemStyle: { color: '#000', opacity: 1 }, data: p.planets });

  levelSteps.forEach((step, k) => {
    series.push({ type: 'bar', xAxisIndex: bar, yAxisIndex: bar, stack: 'levels' + i, barWidth: '100%', silent: true, animation: false,
      itemStyle: { color: levelColors[k] }, data: [step] });
  });

  graphic.push({ type: 'rect', z: 100, silent: true, shape: { x: p.left, y: p.top, width: p.width, height: p.height },
    style: { fill: 'none', stroke: '#000', lineWidth: 1.4 } });
  graphic.push({ type: 'rect', z: 100, silent: true, shape: { x: p.left + p.width, y: p.top, width: p.barWidth, height: p.height },
    style: { fill: 'none', stroke: '#000', lineWidth: 1.4 } });
});

const chart = echarts.init(document.getElementById('chart'));
chart.setOption({ animation: false, backgroundColor: '#fff', grid, xAxis, yAxis, series, graphic });
</script>
</body>
</html>
